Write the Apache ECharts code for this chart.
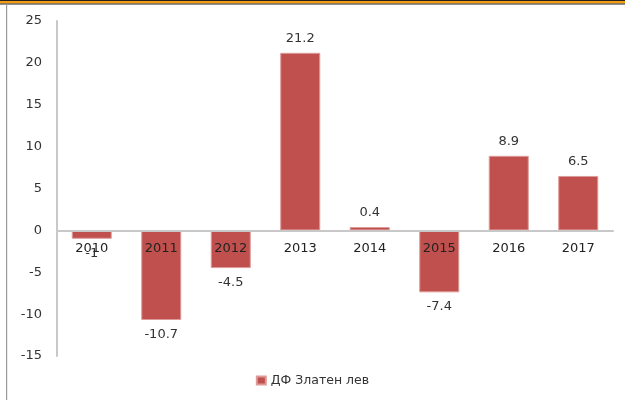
<!DOCTYPE html>
<html>
<head>
<meta charset="utf-8">
<script src="https://cdn.jsdelivr.net/npm/echarts@6/dist/echarts.min.js"></script>
<style>html,body{margin:0;padding:0;background:#fff}#c{width:625px;height:400px}</style>
</head>
<body>
<div id="c"></div>
<script>
var categories = ['2010','2011','2012','2013','2014','2015','2016','2017'];
var values = [-1, -10.7, -4.5, 21.2, 0.4, -7.4, 8.9, 6.5];
var seriesName = 'ДФ Златен лев';
var yTicks = {min: -15, max: 25, interval: 5};

var chart = echarts.init(document.getElementById('c'), null, {renderer: 'canvas'});
var font = 'DejaVu Sans';
var gridBottom = 44;
chart.setOption({
  animation: false,
  backgroundColor: '#fff',
  graphic: [
    {type: 'rect', shape: {x: 0, y: 0, width: 625, height: 1}, style: {fill: '#222'}},
    {type: 'rect', shape: {x: 0, y: 1, width: 625, height: 2.5}, style: {fill: '#f39c12'}},
    {type: 'rect', shape: {x: 0, y: 3.5, width: 625, height: 1}, style: {fill: '#222'}},
    {type: 'rect', shape: {x: 6, y: 4, width: 1.2, height: 396}, style: {fill: '#9a9a9a'}}
  ],
  grid: {left: 57, right: 12, top: 21, bottom: gridBottom, containLabel: false},
  legend: {
    bottom: 8, left: 'center',
    itemWidth: 9, itemHeight: 8, itemGap: 4,
    icon: 'rect',
    textStyle: {fontFamily: font, fontSize: 12.5, color: '#333'},
    data: [seriesName]
  },
  xAxis: {
    type: 'category',
    data: categories,
    axisLine: {onZero: false, lineStyle: {color: '#c8c8c8', width: 2}},
    axisTick: {show: false},
    axisLabel: {fontFamily: font, fontSize: 13, color: '#222', margin: 12}
  },
  yAxis: {
    type: 'value',
    min: yTicks.min, max: yTicks.max, interval: yTicks.interval,
    axisLine: {show: true, onZero: false, lineStyle: {color: '#c8c8c8', width: 2}},
    axisTick: {show: false},
    splitLine: {show: false},
    axisLabel: {fontFamily: font, fontSize: 13, color: '#333', margin: 15}
  },
  series: [{
    name: seriesName,
    type: 'bar',
    z: 2,
    data: values,
    barWidth: 40,
    itemStyle: {color: '#c0504d', borderColor: '#dc9a98', borderWidth: 1},
    label: {
      show: true, position: 'outside',
      fontFamily: font, fontSize: 13, color: '#333', distance: 8
    }
  }]
});
// move the category axis (line + labels) to the value-axis zero position
var zeroY = chart.convertToPixel({yAxisIndex: 0}, 0);
var bottomY = chart.convertToPixel({yAxisIndex: 0}, yTicks.min);
chart.setOption({xAxis: {offset: zeroY - bottomY, z: 5}});
</script>
</body>
</html>
